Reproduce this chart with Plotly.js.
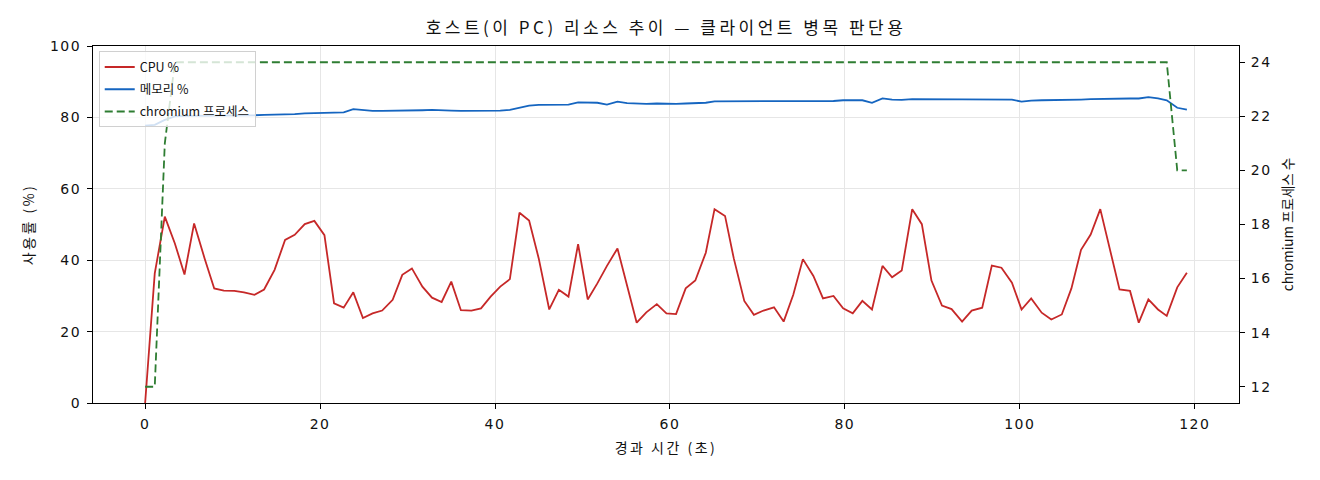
<!DOCTYPE html>
<html>
<head>
<meta charset="utf-8">
<script src="https://cdn.plot.ly/plotly-3.0.1.min.js"></script>
<style>
  html, body { margin: 0; padding: 0; background: #fff; }
  #chart { width: 1320px; height: 480px; }
  /* the reference font runs wide, so open up the spacing a little */
  #chart text.gtitle { letter-spacing: 3.5px; }
  #chart text.xtitle, #chart text.ytitle { letter-spacing: 2.5px; }
  #chart .xtick text, #chart .ytick text, #chart .y2tick text { letter-spacing: 1.5px; }
</style>
</head>
<body>
<div id="chart"></div>
<script>
// elapsed seconds of each sample
var elapsed = [
  0, 1.1, 2.25, 3.4, 4.5, 5.6, 6.8, 7.9, 9.0, 10.2,
  11.3, 12.5, 13.6, 14.8, 16.0, 17.1, 18.25, 19.35, 20.5, 21.6,
  22.7, 23.8, 24.9, 26.0, 27.1, 28.3, 29.4, 30.5, 31.7, 32.8,
  33.9, 35.0, 36.1, 37.3, 38.4, 39.5, 40.6, 41.7, 42.8, 43.9,
  45.0, 46.2, 47.3, 48.4, 49.5, 50.6, 51.7, 52.8, 54.0, 55.1,
  56.2, 57.3, 58.5, 59.6, 60.7, 61.8, 62.9, 64.1, 65.1, 66.3,
  67.3, 68.5, 69.6, 70.7, 71.9, 73.0, 74.1, 75.2, 76.4, 77.5,
  78.7, 79.8, 80.9, 82.0, 83.1, 84.3, 85.4, 86.5, 87.7, 88.8,
  89.9, 91.1, 92.2, 93.4, 94.5, 95.7, 96.8, 97.9, 99.1, 100.2,
  101.3, 102.5, 103.6, 104.8, 105.9, 107.0, 108.1, 109.2, 110.3, 111.4,
  112.6, 113.6, 114.7, 115.8, 116.8, 118.0, 119.1
];

var cpuPct = [
  0, 36.3, 52.2, 44.7, 36.0, 50.3, 40.5, 32.1, 31.5, 31.4,
  31.0, 30.3, 31.8, 37.3, 45.7, 47.1, 50.1, 51.0, 47.0, 27.9,
  26.7, 31.0, 23.8, 25.1, 25.9, 28.9, 35.9, 37.7, 32.6, 29.5,
  28.3, 34.0, 26.0, 25.9, 26.5, 29.8, 32.6, 34.7, 53.3, 51.1,
  40.5, 26.2, 31.7, 29.8, 44.5, 29.0, 33.5, 38.4, 43.3, 32.6,
  22.5, 25.4, 27.7, 25.1, 24.9, 32.1, 34.3, 42.1, 54.3, 52.4,
  40.5, 28.6, 24.7, 25.9, 26.8, 22.8, 30.3, 40.3, 35.6, 29.3,
  30.0, 26.5, 25.1, 28.6, 26.2, 38.4, 35.2, 37.1, 54.3, 50.1,
  34.3, 27.3, 26.3, 22.8, 25.9, 26.7, 38.5, 37.9, 33.7, 26.2,
  29.3, 25.3, 23.4, 24.8, 32.1, 42.9, 47.2, 54.3, 43.0, 31.8,
  31.4, 22.5, 29.0, 26.2, 24.4, 32.4, 36.5
];

var memPct = [
  77.7, 77.9, 79.3, 80.3, 80.4, 80.4, 80.5, 80.5, 80.5, 80.6,
  80.6, 80.6, 80.7, 80.7, 80.8, 80.9, 81.1, 81.2, 81.4, 81.4,
  81.4, 82.3, 82.0, 81.8, 81.8, 81.8, 82.0, 82.0, 82.0, 82.1,
  81.9, 81.9, 81.8, 81.8, 81.8, 81.9, 81.9, 82.1, 82.8, 83.3,
  83.5, 83.5, 83.5, 83.6, 84.2, 84.1, 84.1, 83.6, 84.4, 84.0,
  83.8, 83.8, 83.9, 83.8, 83.8, 83.9, 84.0, 84.1, 84.5, 84.5,
  84.6, 84.6, 84.6, 84.6, 84.4, 84.4, 84.4, 84.5, 84.6, 84.5,
  84.6, 84.8, 84.7, 84.8, 84.1, 85.3, 85.0, 84.9, 85.1, 85.1,
  85.1, 85.1, 85.1, 85.1, 85.1, 84.9, 85.1, 85.0, 85.0, 84.4,
  84.7, 84.8, 84.8, 84.8, 84.9, 85.0, 85.1, 85.2, 85.2, 85.2,
  85.3, 85.3, 85.7, 85.3, 84.8, 82.7, 82.2
];

var chromiumProcs = [
  12, 12, 21, 24, 24, 24, 24, 24, 24, 24,
  24, 24, 24, 24, 24, 24, 24, 24, 24, 24,
  24, 24, 24, 24, 24, 24, 24, 24, 24, 24,
  24, 24, 24, 24, 24, 24, 24, 24, 24, 24,
  24, 24, 24, 24, 24, 24, 24, 24, 24, 24,
  24, 24, 24, 24, 24, 24, 24, 24, 24, 24,
  24, 24, 24, 24, 24, 24, 24, 24, 24, 24,
  24, 24, 24, 24, 24, 24, 24, 24, 24, 24,
  24, 24, 24, 24, 24, 24, 24, 24, 24, 24,
  24, 24, 24, 24, 24, 24, 24, 24, 24, 24,
  24, 24, 24, 24, 24, 20, 20
];

var leftTicks = [0, 20, 40, 60, 80, 100];
var rightTicks = [12, 14, 16, 18, 20, 22, 24];
var xTicks = [0, 20, 40, 60, 80, 100, 120];

var font = "'Noto Sans CJK KR', 'Noto Sans', sans-serif";
var tickFont = {family: "'DejaVu Sans', 'Noto Sans CJK KR', sans-serif", size: 14, color: '#111'};

var cpu = {
  x: elapsed, y: cpuPct, type: 'scatter', mode: 'lines', name: 'CPU %',
  legendgroup: 'a', line: {color: '#c62828', width: 1.8}
};
var mem = {
  x: elapsed, y: memPct, type: 'scatter', mode: 'lines', name: '메모리 %',
  legendgroup: 'b', line: {color: '#1565c0', width: 1.8}
};
var chrome = {
  x: elapsed, y: chromiumProcs, type: 'scatter', mode: 'lines', name: 'chromium 프로세스',
  yaxis: 'y2', legendgroup: 'c',
  line: {color: '#2e7d32', width: 1.8, dash: '8px,4px'}
};

var layout = {
  width: 1320, height: 480,
  margin: {l: 93, r: 81, t: 46, b: 77},
  paper_bgcolor: '#fff', plot_bgcolor: '#fff',
  font: {family: font, size: 13, color: '#111'},
  title: {text: '호스트(이 PC) 리소스 추이 — 클라이언트 병목 판단용',
          xref: 'paper', x: 0.5, xanchor: 'center', y: 0.9417, yanchor: 'middle',
          font: {family: font, size: 17, color: '#111'}},
  showlegend: true,
  legend: {x: 0.005, y: 0.985, xanchor: 'left', yanchor: 'top',
           bgcolor: 'rgba(255,255,255,0.8)', bordercolor: '#d0d0d0', borderwidth: 1,
           font: {family: font, size: 12.5, color: '#111'}, tracegroupgap: 3},
  xaxis: {
    range: [-5.96, 125.06], tickvals: xTicks, ticks: 'outside', ticklen: 5, tickcolor: '#000',
    tickfont: tickFont, ticklabelstandoff: 3,
    showline: true, linecolor: '#000', linewidth: 1, mirror: true, zeroline: false,
    showgrid: true, gridcolor: '#e6e6e6',
    title: {text: '경과 시간 (초)', font: {family: font, size: 14}, standoff: 12}
  },
  yaxis: {
    range: [0, 100], tickvals: leftTicks, ticks: 'outside', ticklen: 5, tickcolor: '#000',
    tickfont: tickFont, ticklabelstandoff: 3,
    showline: true, linecolor: '#000', linewidth: 1, mirror: true, zeroline: false,
    showgrid: true, gridcolor: '#e6e6e6',
    title: {text: '사용률 (%)', font: {family: font, size: 14}, standoff: 16}
  },
  yaxis2: {
    overlaying: 'y', side: 'right', range: [11.4, 24.6], tickvals: rightTicks,
    ticks: 'outside', ticklen: 5, tickcolor: '#000',
    tickfont: tickFont, ticklabelstandoff: 3,
    showline: true, linecolor: '#000', linewidth: 1, zeroline: false, showgrid: false,
    title: {text: 'chromium 프로세스 수', font: {family: font, size: 13.5}, standoff: 15}
  }
};

Plotly.newPlot('chart', [cpu, mem, chrome], layout, {staticPlot: true});
</script>
</body>
</html>
